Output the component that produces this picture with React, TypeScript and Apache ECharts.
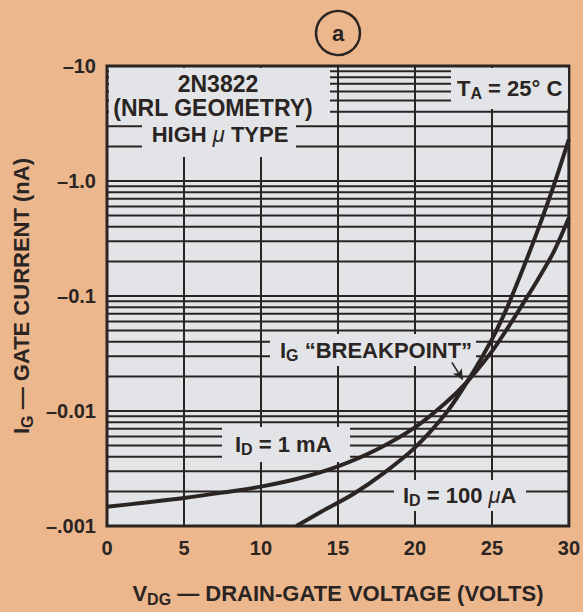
import React, { useEffect, useRef } from "react";
import * as echarts from "echarts";

// ---- data ----
const xTickValues = [0, 5, 10, 15, 20, 25, 30];
const yTickLabels = ["–.001", "–0.01", "–0.1", "–1.0", "–10"]; // decades 1e-3 .. 1e1 (magnitude, nA)
const decadeStarts = [0.001, 0.01, 0.1, 1];
const minorMultipliers = [2, 3, 4, 5, 6, 7, 8, 9];

// I_D = 1 mA curve: V_DG (V) and |I_G| (nA)
const vdg1mA = [0, 2.5, 5, 7.5, 10, 12.5, 15, 17.5, 20, 22, 23.4, 25, 26, 27, 28, 29, 30];
const ig1mA = [0.00147, 0.0016, 0.00175, 0.00195, 0.0022, 0.0026, 0.0033, 0.0046, 0.0072, 0.0118, 0.018, 0.033, 0.052, 0.085, 0.14, 0.24, 0.48];

// I_D = 100 uA curve
const vdg100uA = [12.3, 14, 16, 18, 20, 22, 23.4, 25, 26, 27, 28, 29, 30];
const ig100uA = [0.001, 0.00135, 0.0019, 0.0029, 0.0048, 0.0095, 0.018, 0.042, 0.08, 0.17, 0.38, 0.9, 2.3];

// breakpoint arrow (data coordinates)
const arrowFrom = [22.4, 0.0265];
const arrowTo = [23.1, 0.0188];

const PAGE_BG = "#edb78d";
const PLOT_BG = "#e3e4e7";
const INK = "#2a2523";
const FONT = '"Liberation Sans", Arial, Helvetica, sans-serif';
const TXT = 22;
const SUB = 16;

export default function App() {
  const ref = useRef<HTMLDivElement>(null);

  useEffect(() => {
    if (!ref.current) return;
    const chart = echarts.init(ref.current, undefined, { renderer: "svg" });

    const xMin = xTickValues[0];
    const xMax = xTickValues[xTickValues.length - 1];
    const minorValues = decadeStarts.flatMap((d) =>
      minorMultipliers.map((m) => +(d * m).toPrecision(3))
    );

    const subRich = (size: number) => ({
      fontSize: size,
      fontWeight: "bold",
      fontFamily: FONT,
      fill: INK,
      padding: [11, 0, 0, 0],
    });
    const mainRich = (size: number) => ({
      fontSize: size,
      fontWeight: "bold",
      fontFamily: FONT,
      fill: INK,
    });
    const muRich = (size: number) => ({
      fontSize: size,
      fontStyle: "italic",
      fontWeight: "normal",
      fontFamily: FONT,
      fill: INK,
    });

    const eraser = (x: number, y: number, w: number, h: number) => ({
      type: "rect",
      z: 7,
      silent: true,
      shape: { x, y, width: w, height: h },
      style: { fill: PLOT_BG, stroke: "none" },
    });

    const plainText = (
      text: string,
      x: number,
      y: number,
      align = "center",
      weight = "bold",
      size = TXT
    ) => ({
      type: "text",
      z: 8,
      x,
      y,
      silent: true,
      style: {
        text,
        fill: INK,
        fontSize: size,
        fontWeight: weight,
        fontFamily: FONT,
        align,
        verticalAlign: "middle",
      },
    });

    const richText = (text: string, x: number, y: number, align = "left") => ({
      type: "text",
      z: 8,
      x,
      y,
      silent: true,
      style: {
        text,
        fill: INK,
        fontSize: TXT,
        fontWeight: "bold",
        fontFamily: FONT,
        align,
        verticalAlign: "middle",
        rich: { m: mainRich(TXT), s: subRich(SUB), u: muRich(TXT) },
      },
    });

    const axisNameRich = {
      m: { fontSize: TXT, fontWeight: "bold", fontFamily: FONT, color: INK },
      s: { fontSize: SUB, fontWeight: "bold", fontFamily: FONT, color: INK, padding: [11, 0, 0, 0] },
    };

    const option: any = {
      animation: false,
      backgroundColor: PAGE_BG,
      grid: {
        left: 107,
        top: 66,
        width: 463,
        height: 461,
        show: true,
        backgroundColor: PLOT_BG,
        borderColor: INK,
        borderWidth: 3,
      },
      xAxis: {
        type: "value",
        min: xMin,
        max: xMax,
        interval: 5,
        axisLine: { show: false },
        axisTick: { show: false },
        splitLine: { show: true, lineStyle: { color: INK, width: 2 } },
        axisLabel: {
          margin: 12,
          color: INK,
          fontSize: 20,
          fontWeight: "bold",
          fontFamily: FONT,
          formatter: (v: number) => (xTickValues.includes(v) ? String(v) : ""),
        },
        name: "{m|V}{s|DG}{m| — DRAIN-GATE VOLTAGE (VOLTS)}",
        nameLocation: "middle",
        nameGap: 54,
        nameTextStyle: { rich: axisNameRich },
      },
      yAxis: {
        type: "log",
        logBase: 10,
        min: 0.001,
        max: 10,
        axisLine: { show: false },
        axisTick: { show: false },
        splitLine: { show: true, lineStyle: { color: INK, width: 2 } },
        axisLabel: {
          margin: 11,
          color: INK,
          fontSize: 20,
          fontWeight: "bold",
          fontFamily: FONT,
          formatter: (v: number) => {
            const idx = Math.round(Math.log10(v)) + 3;
            return yTickLabels[idx] ?? "";
          },
        },
        name: "{m|I}{s|G}{m| — GATE CURRENT (nA)}",
        nameLocation: "middle",
        nameRotate: 90,
        nameGap: 70,
        nameTextStyle: { rich: axisNameRich },
      },
      series: [
        {
          type: "custom",
          name: "grid-minor",
          z: 1,
          silent: true,
          clip: true,
          data: minorValues.map((v) => [xMin, v]),
          renderItem: (_params: any, api: any) => {
            const v = api.value(1);
            const p1 = api.coord([xMin, v]);
            const p2 = api.coord([xMax, v]);
            return {
              type: "line",
              shape: { x1: p1[0], y1: p1[1], x2: p2[0], y2: p2[1] },
              style: { stroke: INK, lineWidth: 2 },
            };
          },
        },
        {
          type: "line",
          name: "ID = 1 mA",
          z: 10,
          smooth: 0.3,
          showSymbol: false,
          silent: true,
          lineStyle: { color: INK, width: 4 },
          data: vdg1mA.map((v, i) => [v, ig1mA[i]]),
        },
        {
          type: "line",
          name: "ID = 100 uA",
          z: 10,
          smooth: 0.3,
          showSymbol: false,
          silent: true,
          lineStyle: { color: INK, width: 4 },
          data: vdg100uA.map((v, i) => [v, ig100uA[i]]),
          markLine: {
            z: 12,
            silent: true,
            symbol: ["none", "arrow"],
            symbolSize: [8, 10],
            label: { show: false },
            lineStyle: { type: "solid", color: INK, width: 1.6 },
            emphasis: { disabled: true },
            data: [[{ coord: arrowFrom }, { coord: arrowTo }]],
          },
        },
      ],
      graphic: [
        // circled "a"
        {
          type: "circle",
          z: 8,
          silent: true,
          shape: { cx: 338, cy: 33, r: 22 },
          style: { fill: "none", stroke: INK, lineWidth: 2.5 },
        },
        plainText("a", 338, 33, "center", "bold"),
        // top-left block
        eraser(109, 68, 221, 52),
        eraser(142, 118, 154, 39),
        plainText("2N3822", 218, 84, "center", "bold", 23),
        plainText("(NRL GEOMETRY)", 213, 108, "center", "bold", 23),
        richText("{m|HIGH }{u|μ}{m| TYPE}", 220, 134, "center"),
        // T_A
        eraser(451, 68, 117, 41),
        richText("{m|T}{s|A}{m| = 25° C}", 457, 88),
        // breakpoint
        eraser(270, 334, 206, 32),
        richText("{m|I}{s|G}{m| “BREAKPOINT”}", 280, 350),
        // I_D = 1 mA
        eraser(222, 427, 128, 35),
        richText("{m|I}{s|D}{m| = 1 mA}", 235, 444),
        // I_D = 100 uA
        eraser(394, 480, 132, 31),
        richText("{m|I}{s|D}{m| = 100 }{u|μ}{m|A}", 403, 495),
      ],
    };

    chart.setOption(option);
    return () => chart.dispose();
  }, []);

  return (
    <div
      ref={ref}
      style={{ position: "absolute", left: 0, top: 0, width: 583, height: 612 }}
    />
  );
}
